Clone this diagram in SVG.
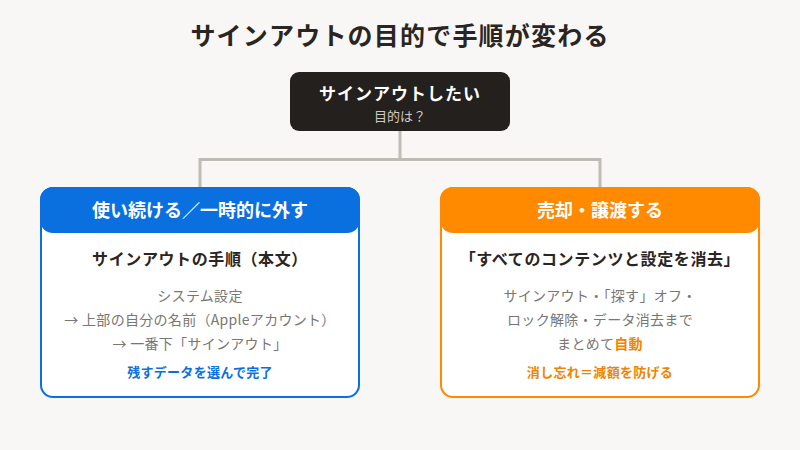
<svg xmlns="http://www.w3.org/2000/svg" width="800" height="450" viewBox="0 0 800 450">
<style>
text{font-family:"Noto Sans CJK JP","Noto Sans",sans-serif;text-anchor:middle}
.title{font-size:25px;font-weight:700;fill:#2a2522;letter-spacing:1.2px}
.rt{font-size:17px;font-weight:700;fill:#ffffff;letter-spacing:1px}
.rs{font-size:13px;fill:#cfcac4}
.hd{font-size:18px;font-weight:700;fill:#ffffff}
.sub{font-size:16px;font-weight:700;fill:#2a2522;letter-spacing:0.6px}
.body{font-size:14px;fill:#7a7673;letter-spacing:0.3px}
.blue{font-size:13px;font-weight:700;fill:#0a70e0;letter-spacing:0.3px}
.or{font-size:13px;font-weight:700;fill:#f08400;letter-spacing:0.3px}
.conn{fill:none;stroke:#c0bbb5;stroke-width:3}
</style>
<rect width="800" height="450" fill="#f8f7f5"/>
<text class="title" x="400" y="45">サインアウトの目的で手順が変わる</text>
<g id="connectors">
<path class="conn" d="M400 131 V159.5 M200 187 V159.5 H600 V187"/>
</g>
<g id="root">
<rect x="290" y="72" width="220" height="59" rx="9" fill="#24201d"/>
<text class="rt" x="400" y="100">サインアウトしたい</text>
<text class="rs" x="400" y="121">目的は？</text>
</g>
<g id="left">
<rect x="41" y="188" width="318" height="209" rx="12" fill="#ffffff" stroke="#0a70e0" stroke-width="2"/>
<rect x="40" y="187" width="320" height="46" rx="13" fill="#0a70e0"/>
<text class="hd" x="200" y="217">使い続ける／一時的に外す</text>
<text class="sub" x="200" y="265">サインアウトの手順（本文）</text>
<text class="body" x="200" y="301">システム設定</text>
<text class="body" x="200" y="325">→ 上部の自分の名前（Appleアカウント）</text>
<text class="body" x="200" y="349">→ 一番下「サインアウト」</text>
<text class="blue" x="200" y="377">残すデータを選んで完了</text>
</g>
<g id="right">
<rect x="441" y="188" width="318" height="209" rx="12" fill="#ffffff" stroke="#ff8a00" stroke-width="2"/>
<rect x="440" y="187" width="320" height="46" rx="13" fill="#ff8a00"/>
<text class="hd" x="600" y="217">売却・譲渡する</text>
<text class="sub" x="600" y="265">「すべてのコンテンツと設定を消去」</text>
<text class="body" x="600" y="301">サインアウト・「探す」オフ・</text>
<text class="body" x="600" y="325">ロック解除・データ消去まで</text>
<text class="body" x="600" y="349">まとめて<tspan style="font-weight:700;fill:#f08400">自動</tspan></text>
<text class="or" x="600" y="377">消し忘れ＝減額を防げる</text>
</g>
</svg>
